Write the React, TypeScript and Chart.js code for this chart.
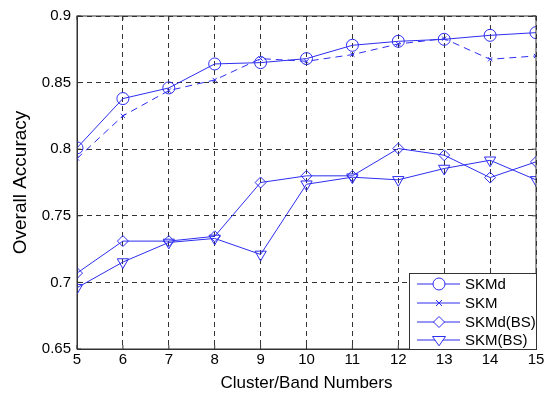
import React, { useEffect, useRef } from "react";
import { Chart, registerables } from "chart.js";

Chart.register(...registerables);

const clusters = [5, 6, 7, 8, 9, 10, 11, 12, 13, 14, 15];
const skmd = [0.801, 0.838, 0.846, 0.864, 0.865, 0.868, 0.878, 0.881, 0.8825, 0.8855, 0.8875];
const skm = [0.793, 0.825, 0.844, 0.852, 0.868, 0.866, 0.871, 0.879, 0.883, 0.8675, 0.87];
const skmdBS = [0.707, 0.731, 0.731, 0.7346, 0.775, 0.78, 0.78, 0.8005, 0.7955, 0.7787, 0.7905];
const skmBS = [0.696, 0.7153, 0.73, 0.733, 0.721, 0.7737, 0.779, 0.777, 0.7855, 0.7917, 0.777];
const seriesNames = ["SKMd", "SKM", "SKMd(BS)", "SKM(BS)"];
const yTicks = [0.65, 0.7, 0.75, 0.8, 0.85, 0.9];

const BLUE = "rgb(45,45,240)";
const FONT = "'Liberation Sans', Arial, sans-serif";

const pts = (ys: number[]) => clusters.map((x, i) => ({ x, y: ys[i] }));

const styles = [
  { pointStyle: "circle", radius: 6, rotation: 0, dash: [] as number[] },
  { pointStyle: "crossRot", radius: 3, rotation: 0, dash: [7, 5] },
  { pointStyle: "rectRot", radius: 5.5, rotation: 0, dash: [] as number[] },
  { pointStyle: "triangle", radius: 6.5, rotation: 180, dash: [] as number[] },
];

function drawMarker(ctx: CanvasRenderingContext2D, style: string, r: number, x: number, y: number) {
  ctx.save();
  ctx.strokeStyle = BLUE;
  ctx.fillStyle = "#fff";
  ctx.lineWidth = 1;
  ctx.beginPath();
  if (style === "circle") {
    ctx.arc(x, y, r, 0, Math.PI * 2);
    ctx.fill();
    ctx.stroke();
  } else if (style === "crossRot") {
    ctx.moveTo(x - r, y - r);
    ctx.lineTo(x + r, y + r);
    ctx.moveTo(x + r, y - r);
    ctx.lineTo(x - r, y + r);
    ctx.stroke();
  } else if (style === "rectRot") {
    ctx.moveTo(x, y - r);
    ctx.lineTo(x + r, y);
    ctx.lineTo(x, y + r);
    ctx.lineTo(x - r, y);
    ctx.closePath();
    ctx.fill();
    ctx.stroke();
  } else {
    const h = r * 0.9;
    ctx.moveTo(x - r, y - h * 0.6);
    ctx.lineTo(x + r, y - h * 0.6);
    ctx.lineTo(x, y + h);
    ctx.closePath();
    ctx.fill();
    ctx.stroke();
  }
  ctx.restore();
}

const framePlugin = {
  id: "frame",
  afterDatasetsDraw(chart: any) {
    const { ctx, chartArea: a } = chart;
    ctx.save();
    ctx.strokeStyle = "#333";
    ctx.lineWidth = 1;
    ctx.setLineDash([]);
    ctx.strokeRect(a.left, a.top, a.right - a.left, a.bottom - a.top);
    const xs = chart.scales.x;
    const ys = chart.scales.y;
    ctx.beginPath();
    clusters.forEach((v) => {
      const px = xs.getPixelForValue(v);
      ctx.moveTo(px, a.bottom);
      ctx.lineTo(px, a.bottom - 4);
      ctx.moveTo(px, a.top);
      ctx.lineTo(px, a.top + 4);
    });
    yTicks.forEach((v) => {
      const py = ys.getPixelForValue(v);
      ctx.moveTo(a.left, py);
      ctx.lineTo(a.left + 4, py);
      ctx.moveTo(a.right, py);
      ctx.lineTo(a.right - 4, py);
    });
    ctx.stroke();
    ctx.restore();
  },
  afterDraw(chart: any) {
    const { ctx, chartArea: a } = chart;
    const boxL = 409, boxT = 273, boxR = a.right, boxB = a.bottom;
    ctx.save();
    ctx.fillStyle = "#fff";
    ctx.fillRect(boxL, boxT, boxR - boxL, boxB - boxT);
    ctx.strokeStyle = "#333";
    ctx.lineWidth = 1;
    ctx.strokeRect(boxL + 0.5, boxT + 0.5, boxR - boxL, boxB - boxT);
    const rows = [284, 303, 322, 340];
    seriesNames.forEach((name, i) => {
      const y = rows[i];
      const st = styles[i];
      ctx.strokeStyle = BLUE;
      ctx.lineWidth = 1;
      ctx.setLineDash([]);
      ctx.beginPath();
      ctx.moveTo(417, y);
      ctx.lineTo(460, y);
      ctx.stroke();
      drawMarker(ctx, st.pointStyle, st.radius, 439, y);
      ctx.fillStyle = "#000";
      ctx.font = `15px ${FONT}`;
      ctx.textBaseline = "middle";
      ctx.textAlign = "left";
      ctx.fillText(name, 465, y + 1);
    });
    ctx.restore();
  },
};

export default function App() {
  const ref = useRef<HTMLCanvasElement | null>(null);
  useEffect(() => {
    document.body.style.margin = "0";
    const datasets = [skmd, skm, skmdBS, skmBS].map((d, i) => ({
      label: seriesNames[i],
      data: pts(d),
      borderColor: BLUE,
      backgroundColor: "transparent",
      borderWidth: 1,
      borderDash: styles[i].dash,
      pointStyle: styles[i].pointStyle as any,
      pointRadius: styles[i].radius,
      pointRotation: styles[i].rotation,
      pointBorderColor: BLUE,
      pointBackgroundColor: "transparent",
      pointBorderWidth: 1,
      tension: 0,
    }));
    const chart = new Chart(ref.current as HTMLCanvasElement, {
      type: "line",
      data: { datasets },
      options: {
        animation: false,
        responsive: false,
        devicePixelRatio: 1,
        layout: { padding: { top: 16, right: 19, left: 0, bottom: 0 } },
        plugins: { legend: { display: false }, tooltip: { enabled: false } },
        scales: {
          x: {
            type: "linear",
            min: 5,
            max: 15,
            afterFit: (s: any) => { s.height = 45; },
            afterBuildTicks: (s: any) => { s.ticks = clusters.map((v) => ({ value: v })); },
            ticks: { color: "#000", font: { family: FONT, size: 15 }, padding: 2, maxRotation: 0 },
            grid: { color: "#333", lineWidth: 1, drawTicks: false },
            border: { display: true, color: "#333", dash: [5, 4] },
            title: { display: true, text: "Cluster/Band Numbers", color: "#000", font: { family: FONT, size: 17 }, padding: { top: 0, bottom: 0 } },
          } as any,
          y: {
            type: "linear",
            min: 0.65,
            max: 0.9,
            afterFit: (s: any) => { s.width = 77; },
            afterBuildTicks: (s: any) => { s.ticks = yTicks.map((v) => ({ value: v })); },
            ticks: { color: "#000", font: { family: FONT, size: 15 }, padding: 6, callback: (v: any) => String(Math.round(Number(v) * 100) / 100) },
            grid: { color: "#333", lineWidth: 1, drawTicks: false },
            border: { display: true, color: "#333", dash: [5, 4] },
            title: { display: true, text: "Overall Accuracy", color: "#000", font: { family: FONT, size: 19 }, padding: { top: 9, bottom: 4 } },
          } as any,
        },
      },
      plugins: [framePlugin],
    });
    return () => chart.destroy();
  }, []);
  return <canvas ref={ref} width={555} height={394} style={{ display: "block", width: 555, height: 394 }} />;
}
